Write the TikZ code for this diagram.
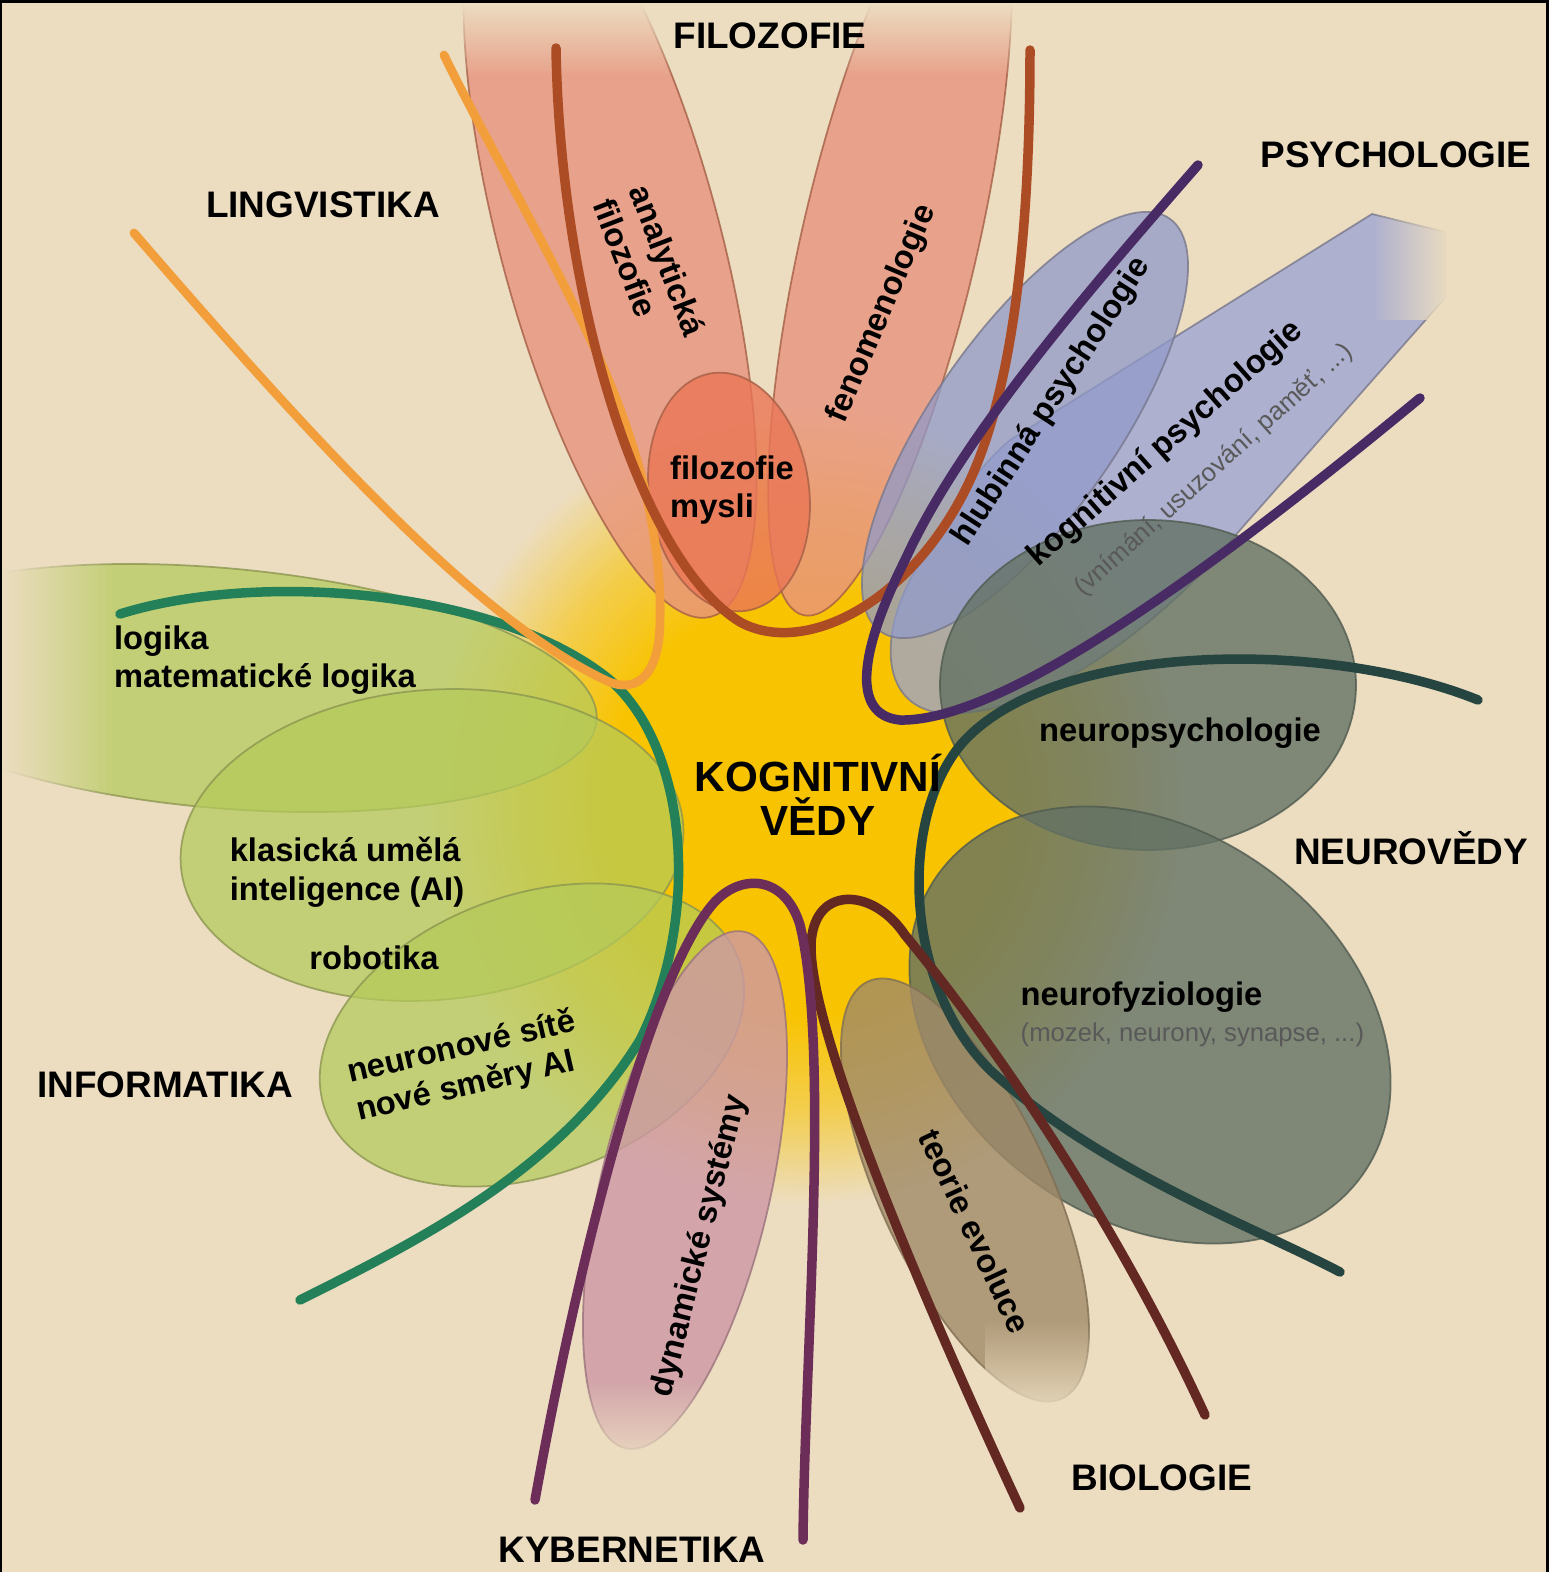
\documentclass[tikz,border=0pt]{standalone}
\usepackage{fontspec}
\setmainfont{Liberation Sans}
\usetikzlibrary{fadings}

\definecolor{pozadi}{RGB}{236,221,193}
\definecolor{zluta}{RGB}{248,195,0}
\definecolor{filc}{RGB}{232,148,126}
\definecolor{mysc}{RGB}{234,118,86}
\definecolor{filhr}{RGB}{165,95,70}
\definecolor{psyc}{RGB}{152,162,212}
\definecolor{psyhr}{RGB}{120,120,140}
\definecolor{neuc}{RGB}{100,114,100}
\definecolor{bioc}{RGB}{160,138,104}
\definecolor{kybc}{RGB}{205,152,165}
\definecolor{infc}{RGB}{180,202,90}
\definecolor{infhr}{RGB}{140,150,80}
\definecolor{lingl}{RGB}{242,158,58}
\definecolor{filline}{RGB}{172,76,36}
\definecolor{psyl}{RGB}{72,42,100}
\definecolor{neul}{RGB}{38,68,64}
\definecolor{biol}{RGB}{100,40,35}
\definecolor{kybl}{RGB}{108,45,88}
\definecolor{infl}{RGB}{35,128,88}
\colorlet{zlutapul}{zluta!60!pozadi}

\pgfdeclareradialshading{zar}{\pgfpoint{0bp}{0bp}}{color(0bp)=(zluta); color(13bp)=(zluta); color(19bp)=(zlutapul); color(25bp)=(pozadi); color(50bp)=(pozadi)}
\tikzfading[name=shora, top color=transparent!0, bottom color=transparent!100]
\tikzfading[name=zdola, top color=transparent!100, bottom color=transparent!0]
\tikzfading[name=zleva, left color=transparent!0, right color=transparent!100]
\tikzfading[name=zprava, left color=transparent!100, right color=transparent!0]

\begin{document}
\begin{tikzpicture}[x=0.01cm, y=-0.01cm,
  tvar/.style={line width=0.5pt, fill opacity=0.8, draw opacity=0.8},
  fil/.style={tvar, fill=filc, draw=filhr},
  psy/.style={tvar, fill=psyc, draw=psyhr, fill opacity=0.75},
  neu/.style={tvar, fill=neuc, draw=neuc!80!black},
  bio/.style={tvar, fill=bioc, draw=bioc!80!black},
  kyb/.style={tvar, fill=kybc, draw=kybc!75!black},
  inf/.style={tvar, fill=infc, draw=infhr, fill opacity=0.72},
  stem/.style={line width=2.7pt, line cap=round},
  obor/.style={font=\bfseries\fontsize{10.5}{12}\selectfont, inner sep=1pt},
  smer/.style={font=\bfseries\fontsize{9.3}{11}\selectfont, align=left, inner sep=0pt},
  pozn/.style={font=\fontsize{7.3}{9}\selectfont, text=black!65, inner sep=0pt},
  stred/.style={font=\bfseries\fontsize{12}{12.5}\selectfont, align=center}]

  \useasboundingbox (0,0) rectangle (1549,1572);
  \begin{scope}
  \clip (0,0) rectangle (1549,1572);
  \fill[pozadi] (0,0) rectangle (1549,1572);
  \shade[shading=zar] (805,805) ellipse [x radius=380, y radius=400];

  % filozofie
  \filldraw[fil, rotate around={15:(610,240)}] (610,240) ellipse [x radius=110, y radius=390];
  \filldraw[fil, rotate around={-13:(890,240)}] (890,240) ellipse [x radius=88, y radius=385];
  \filldraw[fil, fill=mysc, rotate around={8:(729,492)}] (729,492) ellipse [x radius=80, y radius=120];

  % psychologie
  \filldraw[psy] (1010,440) -- (1372,214) -- (1445,232) -- (1445,298) -- (1240,530)
    .. controls (1150,640) and (1020,725) .. (935,712)
    .. controls (875,700) and (880,620) .. (925,555)
    .. controls (950,510) and (975,470) .. (1010,440) -- cycle;
  \filldraw[psy, fill=psyc!95!black, rotate around={55:(1025,425)}] (1025,425) ellipse [x radius=252, y radius=92];

  % neurovedy
  \filldraw[neu] (1148,685) ellipse [x radius=208, y radius=165];
  \filldraw[neu, rotate around={-35:(1150,1025)}] (1150,1025) ellipse [x radius=260, y radius=195];

  % informatika
  \filldraw[inf, rotate around={-5:(220,688)}] (220,688) ellipse [x radius=378, y radius=120];
  \filldraw[inf, rotate around={5:(432,845)}] (432,845) ellipse [x radius=252, y radius=155];
  \filldraw[inf, rotate around={20:(532,1035)}] (532,1035) ellipse [x radius=220, y radius=140];

  % kybernetika, biologie
  \filldraw[kyb, rotate around={-13:(685,1190)}] (685,1190) ellipse [x radius=85, y radius=265];
  \filldraw[bio, rotate around={25:(965,1190)}] (965,1190) ellipse [x radius=85, y radius=230];

  % konce se ztraceji
  \fill[pozadi, path fading=shora] (450,3) rectangle (1020,75);
  \fill[pozadi, path fading=zprava] (1372,190) rectangle (1449,320);
  \fill[pozadi, path fading=zleva] (2,550) rectangle (115,820);
  \fill[pozadi, path fading=zdola] (570,1380) rectangle (725,1470);
  \fill[pozadi, path fading=zdola] (985,1320) rectangle (1095,1420);

  % vlakna
  \draw[stem, infl] (120,614) .. controls (260,570) and (500,590) .. (610,680)
    .. controls (690,750) and (700,920) .. (640,1040)
    .. controls (560,1170) and (420,1240) .. (300,1300);
  \draw[stem, lingl, line width=2.5pt] (134,233) .. controls (330,460) and (480,620) .. (605,680)
    .. controls (640,697) and (660,670) .. (660,620)
    .. controls (662,540) and (640,450) .. (600,360)
    .. controls (550,250) and (480,130) .. (444,55);
  \draw[stem, filline] (556,48) .. controls (560,300) and (640,560) .. (740,622)
    .. controls (800,655) and (900,610) .. (960,500)
    .. controls (1010,410) and (1030,250) .. (1030,50);
  \draw[stem, psyl] (1198,165) .. controls (1080,300) and (960,440) .. (905,560)
    .. controls (860,650) and (850,715) .. (900,720)
    .. controls (1000,722) and (1200,580) .. (1420,398);
  \draw[stem, neul] (1478,700) .. controls (1330,640) and (1060,640) .. (965,740)
    .. controls (900,810) and (900,980) .. (990,1070)
    .. controls (1100,1170) and (1250,1225) .. (1340,1272);
  \draw[stem, biol] (1020,1508) .. controls (900,1250) and (800,1000) .. (812,935)
    .. controls (820,885) and (875,890) .. (905,935)
    .. controls (1000,1050) and (1120,1230) .. (1205,1415);
  \draw[stem, kybl] (535,1500) .. controls (580,1250) and (650,980) .. (712,905)
    .. controls (740,872) and (785,875) .. (800,925)
    .. controls (830,1050) and (805,1350) .. (803,1540);
  \end{scope}

  % obory
  \node[obor] (filozofie) at (770,36) {FILOZOFIE};
  \node[obor] (lingvistika) at (323,205) {LINGVISTIKA};
  \node[obor] (psychologie) at (1396,155) {PSYCHOLOGIE};
  \node[obor] (neurovedy) at (1411,848) {NEUROVĚDY};
  \node[obor] (biologie) at (1162,1478) {BIOLOGIE};
  \node[obor] (kybernetika) at (632,1550) {KYBERNETIKA};
  \node[obor] (informatika) at (165,1085) {INFORMATIKA};
  \node[stred] (kv) at (818,795) {KOGNITIVNÍ\\VĚDY};

  % smery
  \node[smer, rotate=-69] (analyticka) at (650,267) {analytická\\filozofie};
  \node[smer, rotate=67] (fenomenologie) at (882,314) {fenomenologie};
  \node[smer] (mysl) at (732,490) {filozofie\\mysli};
  \node[smer, rotate=57] (hlubinna) at (1052,402) {hlubinná psychologie};
  \node[smer, rotate=41.5] (kognitivni) at (1166,444) {kognitivní psychologie};
  \node[pozn, rotate=42] (kognitivnipozn) at (1214,470) {(vnímání, usuzování, paměť, ...)};
  \node[smer] (neuropsych) at (1180,733) {neuropsychologie};
  \node[smer, anchor=west] (neurofyz) at (1020,997) {neurofyziologie};
  \node[pozn, anchor=west] (neurofyzpozn) at (1020,1035) {(mozek, neurony, synapse, ...)};
  \node[smer, rotate=-65] (evoluce) at (975,1231) {teorie evoluce};
  \node[smer, rotate=76] (dynamicke) at (700,1246) {dynamické systémy};
  \node[smer, rotate=13] (neuronove) at (466,1067) {neuronové sítě\\nové směry AI};
  \node[smer] (klasicka) at (347,872) {klasická umělá\\inteligence (AI)};
  \node[smer] (robotika) at (374,958) {robotika};
  \node[smer] (logika) at (265,660) {logika\\matematické logika};

  \fill[black] (0,0) rectangle (1549,3);
  \fill[black] (0,0) rectangle (2,1572);
  \fill[black] (1546,0) rectangle (1549,1572);
\end{tikzpicture}
\end{document}
